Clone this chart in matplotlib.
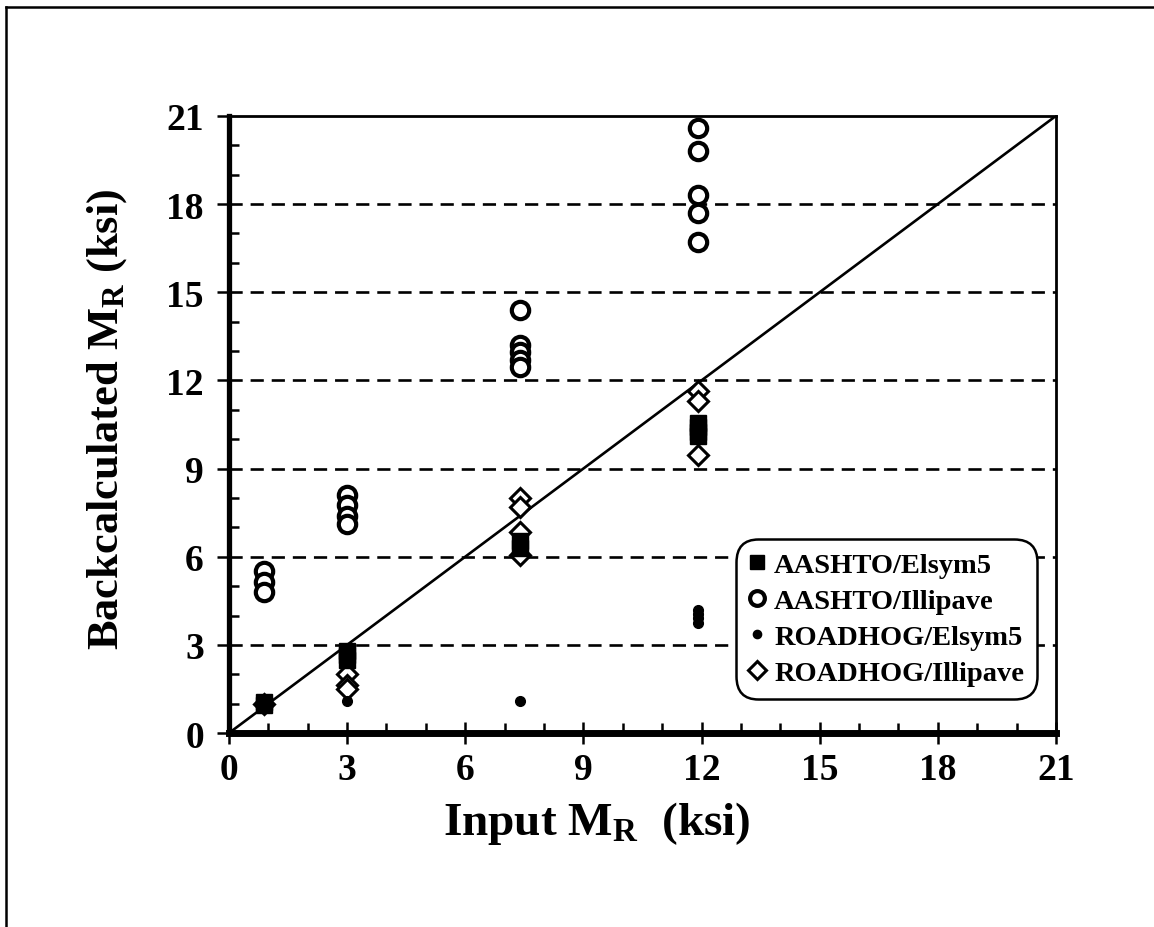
import matplotlib
matplotlib.use("Agg")
import matplotlib.pyplot as plt
from matplotlib.lines import Line2D
from matplotlib.ticker import MultipleLocator

plt.rcParams['font.family'] = ['Liberation Serif', 'DejaVu Serif']
plt.rcParams['font.weight'] = 'bold'
plt.rcParams['mathtext.fontset'] = 'custom'
plt.rcParams['mathtext.rm'] = 'Liberation Serif:bold'
plt.rcParams['mathtext.bf'] = 'Liberation Serif:bold'
plt.rcParams['mathtext.it'] = 'Liberation Serif:bold'

# ---- data (ksi) ----
aashto_elsym5_x = [0.9, 0.9, 3.0, 3.0, 3.0, 7.4, 7.4, 11.9, 11.9, 11.9, 11.9]
aashto_elsym5_y = [0.95, 1.05, 2.5, 2.65, 2.8, 6.3, 6.55, 10.1, 10.25, 10.4, 10.55]

aashto_illipave_x = [0.9, 0.9, 0.9, 3.0, 3.0, 3.0, 3.0, 7.4, 7.4, 7.4, 7.4, 7.4,
                     11.9, 11.9, 11.9, 11.9, 11.9]
aashto_illipave_y = [5.5, 5.15, 4.8, 8.1, 7.75, 7.4, 7.1, 14.4, 13.2, 12.95, 12.7, 12.45,
                     20.6, 19.8, 18.3, 17.7, 16.7]

roadhog_elsym5_x = [0.9, 3.0, 7.4, 11.9, 11.9, 11.9, 11.9]
roadhog_elsym5_y = [1.1, 1.1, 1.1, 4.2, 4.05, 3.9, 3.75]

roadhog_illipave_x = [0.9, 3.0, 3.0, 3.0, 7.4, 7.4, 7.4, 7.4, 11.9, 11.9, 11.9]
roadhog_illipave_y = [1.0, 2.0, 1.65, 1.5, 8.0, 7.7, 6.85, 6.05, 11.65, 11.3, 9.45]

labels = ['AASHTO/Elsym5', 'AASHTO/Illipave', 'ROADHOG/Elsym5', 'ROADHOG/Illipave']
ticks = [0, 3, 6, 9, 12, 15, 18, 21]

fig = plt.figure(figsize=(11.54, 9.28), dpi=100)
ax = fig.add_axes([0.1984, 0.209, 0.7166, 0.665])

# dashed grid lines
for t in ticks[1:-1]:
    ax.axhline(t, color='black', lw=1.9, ls=(0, (5, 3)), zorder=1)

# equality line
ax.plot([0, 21], [0, 21], color='black', lw=1.9, zorder=2)

ax.plot(aashto_elsym5_x, aashto_elsym5_y, ls='none', marker='s', ms=12,
        mfc='black', mec='black', label=labels[0], zorder=4)
ax.plot(aashto_illipave_x, aashto_illipave_y, ls='none', marker='o', ms=12.5,
        mfc='white', mec='black', mew=3.0, label=labels[1], zorder=3)
ax.plot(roadhog_elsym5_x, roadhog_elsym5_y, ls='none', marker='o', ms=7,
        mfc='black', mec='black', label=labels[2], zorder=5)
ax.plot(roadhog_illipave_x, roadhog_illipave_y, ls='none', marker='D', ms=10.5,
        mfc='white', mec='black', mew=2.2, label=labels[3], zorder=3)

ax.set_xlim(0, 21)
ax.set_ylim(0, 21)
ax.set_xticks(ticks)
ax.set_yticks(ticks)
ax.xaxis.set_minor_locator(MultipleLocator(1))
ax.yaxis.set_minor_locator(MultipleLocator(1))

for s in ['top', 'right']:
    ax.spines[s].set_linewidth(2.0)
ax.spines['left'].set_linewidth(3.8)
ax.spines['bottom'].set_linewidth(5)

ax.tick_params(axis='y', which='major', direction='out', length=9, width=1.8,
               labelsize=27, pad=9)
ax.tick_params(axis='y', which='minor', direction='in', length=7, width=1.8)
ax.tick_params(axis='x', which='major', direction='inout', length=16, width=1.8,
               labelsize=27, pad=6)
ax.tick_params(axis='x', which='minor', direction='in', length=7, width=1.8)
for lab in ax.get_xticklabels() + ax.get_yticklabels():
    lab.set_fontweight('bold')

ax.set_xlabel(r'Input M$_{\mathrm{R}}$  (ksi)', fontsize=34, fontweight='bold', labelpad=8)
ax.xaxis.label.set_x(0.445)
ax.set_ylabel(r'Backcalculated M$_{\mathrm{R}}$ (ksi)', fontsize=32, fontweight='bold', labelpad=27)
ax.yaxis.label.set_y(0.51)

leg = ax.legend(loc='lower right', bbox_to_anchor=(0.977, 0.055), fancybox=True,
                framealpha=1, edgecolor='black', handlelength=0.6,
                handletextpad=0.3, labelspacing=0.36, borderpad=0.45,
                borderaxespad=0, markerscale=0.85,
                prop={'weight': 'bold', 'size': 20.5})
leg.get_frame().set_linewidth(1.8)
leg.get_frame().set_boxstyle('round', pad=0.0, rounding_size=0.8)
leg.set_zorder(10)

# outer frame (left and top edges)
fig.add_artist(Line2D([5.5 / 1154, 5.5 / 1154], [0, 1 - 7.5 / 928], color='black', lw=1.8,
                      transform=fig.transFigure))
fig.add_artist(Line2D([5.5 / 1154, 1], [1 - 7.5 / 928, 1 - 7.5 / 928], color='black', lw=1.8,
                      transform=fig.transFigure))

fig.savefig('out.png', dpi=100)
